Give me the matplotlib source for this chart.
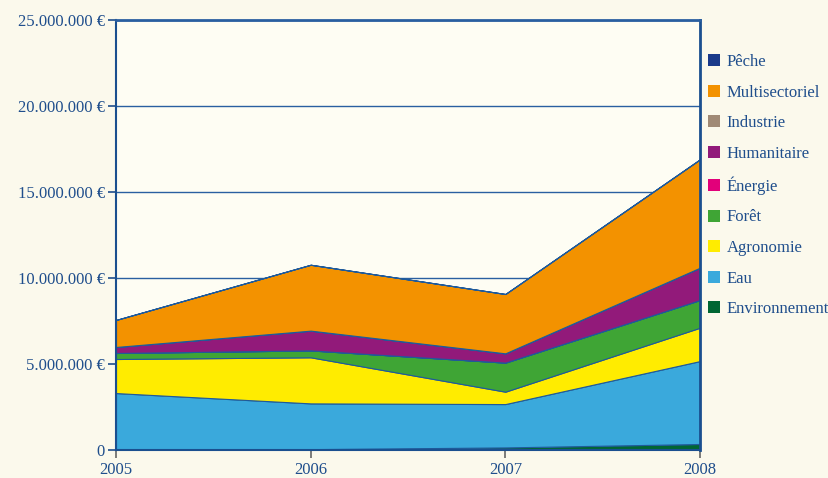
import matplotlib
matplotlib.use('Agg')
import matplotlib.pyplot as plt
from matplotlib.patches import Patch
from matplotlib.ticker import FuncFormatter

plt.rcParams['font.family'] = ['Liberation Serif', 'DejaVu Serif']

# Montants par secteur (millions d'euros), ordre d'empilement du bas vers le haut
annees = [2005, 2006, 2007, 2008]
environnement = [0.05, 0.05, 0.15, 0.35]
eau = [3.26, 2.66, 2.52, 4.82]
agronomie = [1.98, 2.68, 0.72, 1.94]
foret = [0.35, 0.40, 1.69, 1.61]
energie = [0.0, 0.0, 0.0, 0.0]
humanitaire = [0.35, 1.15, 0.54, 1.88]
industrie = [0.0, 0.0, 0.0, 0.0]
multisectoriel = [1.57, 3.83, 3.45, 6.30]
peche = [0.0, 0.0, 0.0, 0.0]

secteurs = ['Environnement', 'Eau', 'Agronomie', 'Forêt', 'Énergie',
            'Humanitaire', 'Industrie', 'Multisectoriel', 'Pêche']
series = [environnement, eau, agronomie, foret, energie,
          humanitaire, industrie, multisectoriel, peche]
couleurs = ['#006633', '#3aa9dc', '#ffec00', '#3fa535', '#e2007a',
            '#921a7a', '#a08a76', '#f39200', '#1a3a8a']

bleu = '#1f4e8c'
fond = '#fbf9ec'

fig = plt.figure(figsize=(8.29, 4.78), dpi=100, facecolor=fond)
ax = fig.add_axes([116 / 829, 28 / 478, 584 / 829, 430 / 478])
ax.set_facecolor('#fefdf3')

valeurs = [[v * 1e6 for v in s] for s in series]
ax.stackplot(annees, *valeurs, colors=couleurs, edgecolor='#1f5a9a',
             linewidth=0.8, zorder=2)

ax.set_xlim(2005, 2008)
ax.set_ylim(0, 25e6)
ax.set_xticks(annees)
ax.set_yticks([0, 5e6, 10e6, 15e6, 20e6, 25e6])


def euros(v, pos):
    if v == 0:
        return '0'
    return f'{int(v):,} €'.replace(',', '.')


ax.yaxis.set_major_formatter(FuncFormatter(euros))
ax.yaxis.grid(True, color='#2a5fa0', linewidth=1.0, zorder=0)
ax.set_axisbelow(True)

ax.tick_params(axis='y', colors=bleu, labelcolor=bleu, labelsize=12,
               length=6, width=1.2, pad=2)
ax.tick_params(axis='x', colors='#666666', labelcolor=bleu, labelsize=12,
               length=6, width=1.2, pad=3)

for cote in ['left', 'bottom']:
    ax.spines[cote].set_color('#1a4f8f')
    ax.spines[cote].set_linewidth(1.5)
ax.spines['right'].set_color('#1a4f8f')
ax.spines['right'].set_linewidth(2.0)
ax.spines['top'].set_color('#2a5fa0')
ax.spines['top'].set_linewidth(2.0)

# Légende : du haut vers le bas, ordre inverse de l'empilement
poignees = [Patch(facecolor=c, edgecolor='none') for c in couleurs[::-1]]
leg = fig.legend(poignees, secteurs[::-1], loc='upper left',
                 bbox_to_anchor=(708 / 829, 1 - 54 / 478), frameon=False,
                 fontsize=12, handlelength=0.72, handleheight=0.72,
                 handletextpad=0.4, labelspacing=0.875, borderpad=0,
                 borderaxespad=0)
for t in leg.get_texts():
    t.set_color(bleu)

fig.savefig('out.png', dpi=100, facecolor=fond)
